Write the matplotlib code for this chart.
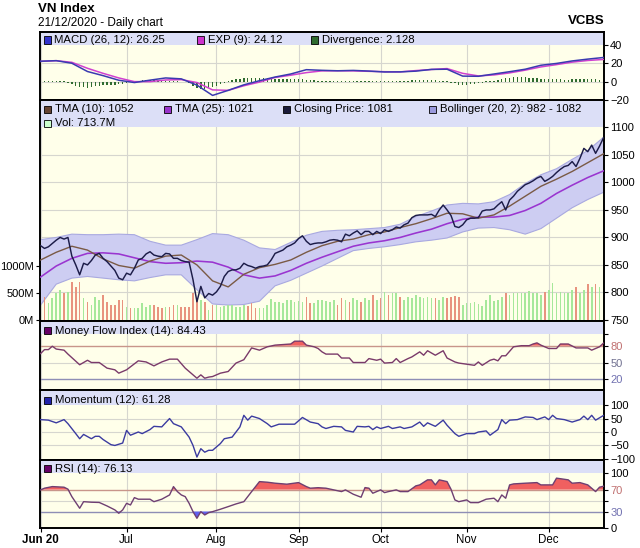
import numpy as np
import pandas as pd
import matplotlib
matplotlib.use("Agg")
import matplotlib.pyplot as plt
from matplotlib.patches import Rectangle
from matplotlib import transforms

plt.rcParams['font.family'] = ['Liberation Sans', 'DejaVu Sans']

# ---------------- data ----------------
days = pd.bdate_range("2020-06-01", "2020-12-21")
days = days[days != pd.Timestamp("2020-09-02")]
month_labels = ["Jun 20", "Jul", "Aug", "Sep", "Oct", "Nov", "Dec"]

close = [885, 880, 883, 889, 895, 900, 897, 900, 866, 850,
         832, 853, 850, 858, 868, 871, 862, 856, 848, 840,
         826, 823, 835, 832, 844, 859, 862, 870, 874, 868,
         866, 865, 871, 870, 862, 862, 858, 856, 855, 823,
         783, 811, 790, 798, 795, 801, 811, 829, 838, 841,
         841, 844, 853, 849, 847, 844, 847, 848, 850, 859,
         871, 874, 877, 883, 886, 890, 898, 903, 893, 887,
         889, 890, 890, 892, 895, 896, 895, 892, 906, 903,
         908, 912, 905, 911, 911, 905, 911, 907, 914, 911,
         914, 919, 917, 923, 926, 936, 940, 941, 941, 941,
         942, 938, 950, 959, 950, 940, 920, 918, 923, 932,
         935, 935, 936, 948, 950, 950, 952, 959, 965, 950,
         968, 975, 984, 990, 996, 999, 1003, 1008, 1011, 1002,
         1006, 1011, 1018, 1024, 1029, 1031, 1038, 1029, 1044, 1062,
         1056, 1068, 1053, 1066, 1081]

volume = [480, 432, 309, 401, 494, 555, 494, 524, 709, 617,
          709, 401, 339, 278, 432, 370, 463, 339, 278, 278,
          370, 370, 247, 216, 216, 216, 308, 247, 278, 278,
          247, 216, 247, 247, 278, 278, 247, 247, 247, 494,
          400, 370, 340, 185, 278, 278, 247, 260, 270, 278,
          247, 247, 278, 259, 308, 216, 216, 216, 278, 382,
          339, 339, 308, 370, 370, 339, 358, 339, 432, 320,
          308, 370, 370, 358, 339, 370, 278, 401, 370, 339,
          401, 370, 339, 401, 380, 463, 370, 401, 512, 463,
          494, 506, 432, 370, 432, 401, 463, 432, 401, 432,
          401, 401, 370, 432, 401, 432, 444, 432, 278, 308,
          321, 339, 296, 259, 370, 463, 358, 370, 432, 506,
          463, 494, 494, 494, 506, 543, 494, 494, 463, 524,
          555, 691, 506, 524, 494, 494, 555, 617, 494, 555,
          666, 617, 666, 617, 714]

smooth_idx = list(range(0, 145, 4))
tma10 = [859, 873, 884, 877, 861, 849, 844, 857, 866, 868, 850, 821, 810, 833, 845,
         851, 859, 873, 885, 893, 897, 905, 910, 918, 925, 934, 944, 943, 935, 941,
         957, 975, 993, 1006, 1020, 1036, 1052]
tma25 = [828, 848, 862, 871, 872, 870, 863, 856, 853, 854, 857, 855, 846, 832, 826,
         830, 840, 853, 864, 874, 884, 890, 894, 900, 908, 915, 925, 933, 937, 937,
         940, 949, 962, 980, 995, 1009, 1021]
boll_up = [896, 900, 906, 905, 905, 906, 905, 893, 886, 886, 896, 907, 905, 895, 881,
           878, 891, 904, 911, 913, 914, 916, 918, 924, 938, 948, 959, 962, 961, 965,
           978, 998, 1014, 1025, 1042, 1058, 1082]
boll_lo = [777, 815, 826, 829, 826, 823, 821, 827, 832, 832, 805, 779, 777, 778, 784,
           812, 822, 835, 848, 862, 876, 880, 883, 887, 892, 895, 899, 910, 917, 918,
           914, 906, 916, 935, 954, 969, 982]

macd = [22.2, 22.8, 20, 11, 6.5, 1.5, -1, 1.6, 4, 3, -3.8, -15, -9.5, -3.5, 1,
        5, 8.3, 13, 12.3, 11.8, 12.2, 11.5, 10.5, 10.6, 11.4, 13.3, 13.5, 6, 5.8, 8.3,
        10.8, 13.5, 17.8, 19.8, 22.5, 24.5, 26.25]
macd_sig = [22, 22.8, 21, 14.5, 9, 4, 0, 0, 1.8, 2.2, -1, -9, -9.5, -4.5, -0.5,
            4.5, 7, 9.8, 11.7, 11.8, 11.7, 11.2, 10.8, 10.6, 12, 13.2, 14.2, 9, 6.2, 7.3,
            9.5, 12.5, 16, 18.5, 21.2, 23, 24.12]
macd_div = ([0.8] * 7
            + [-1, -3, -5, -6, -6, -7, -6, -5, -5, -4, -4, -4, -4, -3, -3]
            + [-1, -0.5, 0.5]
            + [1, 1.5, 2, 2, 2, 1.5, 1.5, 1, 1, 0.5]
            + [0.3, 0, -0.5]
            + [-2, -5, -7, -8, -8, -7, -6]
            + [-5, -3, -1.5]
            + [0.5, 1.5, 2.5, 3, 3.5, 4, 4, 4, 4, 4, 3.5, 3.5, 3, 3, 3, 3, 3, 3, 2.5, 2.5, 2, 2, 1.5, 1]
            + [0.5, 0.5, 0.3, 0.2, 0.2, 0.2, 0.2, 0.2, 0.2, 0.5, 0.5, 0.2, 0.2, 0.5, 0.2, 0.2, 0.2, 0.2, 0.2, 0.2, 0.2, 0.5]
            + [1, 1.5, 1.5, 2, 2, 2, 1.5, 1.5, 1, 1, 0.5]
            + [-1, -2, -3.5, -3.5, -3.5, -3, -2.5, -2, -1]
            + [0.2, 0.5]
            + [1, 2, 3, 3.5, 4, 4.5, 4.5, 4.5, 4.5, 4, 4, 3.5, 3, 3, 3, 2.5, 2.5, 2.5, 2, 2, 2.5, 2.5, 3, 3, 2.5, 2.5, 2.5, 2, 2])

mfi_idx = [0, 1, 2, 3, 4, 6, 7, 10, 12, 13, 15, 17, 19, 20, 22, 25, 27, 29, 31, 33,
           35, 37, 40, 41, 42, 43, 44, 46, 48, 50, 52, 54, 56, 58, 60, 64, 65, 67, 68, 70,
           71, 72, 73, 76, 77, 79, 80, 83, 84, 86, 87, 88, 90, 91, 92, 94, 95, 97, 98, 99,
           101, 103, 104, 106, 107, 109, 111, 112, 113, 115, 116, 117, 118, 119, 121, 123, 125, 126, 127, 128,
           130, 132, 133, 135, 137, 140, 141, 143, 144]
mfi_val = [66, 73, 73, 79, 74, 72, 65, 46, 54, 50, 50, 40, 37, 31, 37, 53, 51, 44, 51, 56,
           56, 40, 22, 28, 22, 24, 25, 31, 34, 49, 55, 76, 72, 78, 81, 83, 88, 88, 81, 78,
           75, 69, 65, 65, 58, 58, 50, 50, 57, 54, 56, 49, 50, 57, 50, 57, 60, 69, 63, 71,
           63, 71, 58, 51, 49, 47, 45, 51, 45, 54, 56, 53, 62, 62, 78, 80, 80, 83, 85, 81,
           75, 75, 83, 83, 76, 76, 72, 78, 84.43]

mom_idx = [0, 2, 4, 6, 7, 9, 10, 11, 13, 14, 15, 16, 18, 19, 21, 22, 23, 25, 26, 28,
           29, 31, 33, 34, 36, 37, 38, 39, 40, 41, 42, 43, 44, 46, 47, 49, 51, 52, 53, 54,
           56, 58, 59, 61, 65, 67, 69, 71, 72, 73, 75, 77, 78, 80, 81, 83, 84, 85, 86, 87,
           89, 90, 92, 93, 95, 97, 98, 99, 101, 103, 104, 106, 107, 109, 111, 112, 114, 115, 117, 118,
           119, 120, 122, 124, 126, 127, 129, 130, 131, 132, 134, 136, 138, 139, 140, 141, 142, 144]
mom_val = [46, 44, 34, 46, 31, -6, -25, -9, -25, -16, -16, -28, -47, -50, -41, 6, -12, 0, -6, 9,
           21, 19, 50, 31, 19, 0, -19, -50, -93, -62, -75, -68, -68, -43, -25, -19, 19, 62, 44, 59,
           50, 31, 19, 29, 29, 54, 37, 31, 19, 13, 21, 19, 6, 0, 21, 19, 21, 9, 19, 13,
           21, 13, 19, 13, 19, 37, 21, 34, 21, 44, 25, -6, -16, -6, -6, 0, 4, -12, 9, 46,
           31, 44, 46, 56, 54, 46, 56, 46, 62, 50, 46, 37, 46, 59, 46, 62, 44, 61.28]

rsi_idx = [0, 1, 3, 6, 7, 8, 10, 11, 13, 15, 17, 19, 20, 21, 22, 23, 24, 25, 28, 29,
           31, 33, 34, 35, 36, 37, 38, 39, 40, 41, 42, 43, 44, 46, 48, 50, 52, 54, 55, 56,
           58, 60, 63, 66, 68, 69, 71, 73, 75, 77, 78, 80, 82, 83, 84, 85, 87, 88, 89, 91,
           92, 94, 96, 97, 99, 100, 101, 102, 104, 105, 106, 107, 109, 110, 112, 114, 116, 117, 118, 119,
           120, 121, 124, 127, 128, 131, 132, 135, 136, 138, 140, 142, 143, 144]
rsi_val = [69.5, 72.6, 75.5, 74.4, 70.8, 57.2, 36, 48, 47, 46.6, 40.2, 33, 26.9, 33, 45, 42, 55.4, 52.5, 52.5, 48,
           52.5, 60.3, 75.5, 66.4, 60.3, 57.2, 45, 29.8, 17.7, 29.8, 23.8, 28, 29.8, 34.2, 39, 43.9, 48, 66.4, 75.5, 84.6,
           83.5, 81.7, 79.9, 82.8, 75.5, 72.6, 73.5, 72.6, 69.5, 66.4, 69.5, 61.6, 56.1, 73.7, 72.6, 63.4, 69.5, 64.5, 66.4, 69.5,
           66.4, 66.4, 76.8, 78.6, 87.8, 87.8, 78.6, 87.8, 84.6, 70.8, 51.2, 48, 51.2, 46.3, 46.3, 52.5, 54.3, 48, 60.3, 54.3,
           78.6, 80.4, 81.7, 82.8, 78.6, 78.6, 90.9, 87.8, 81.7, 82.8, 78.6, 66.4, 74.4, 76.13]

# ---------------- derived positions ----------------
x_days = np.arange(len(days))
month_idx = [0] + [i for i in range(1, len(days)) if days[i].month != days[i - 1].month]
close_arr = np.array(close, dtype=float)
vol_colors = ['#E8937F'] + ['#E8937F' if close_arr[i] < close_arr[i - 1] else '#A6E89A'
                            for i in range(1, len(close_arr))]

# ---------------- figure ----------------
W_PX, H_PX = 640, 548
fig = plt.figure(figsize=(6.4, 5.48), dpi=100)
fig.patch.set_facecolor('white')

BG = '#FFFFEA'
BAND = '#DCDFF7'
GRID = '#D6D6CF'
XL = (-0.15, 144.15)
L_PX, R_PX = 40, 604
TICK_FS = 8


def panel(top, bot):
    ax = fig.add_axes([L_PX / W_PX, 1 - bot / H_PX, (R_PX - L_PX) / W_PX, (bot - top) / H_PX])
    ax.set_facecolor(BG)
    ax.set_xlim(*XL)
    for m in month_idx:
        ax.axvline(m, color=GRID, lw=0.8, zorder=0.5)
    for s in ax.spines.values():
        s.set_color('black')
        s.set_linewidth(1.4)
    ax.yaxis.tick_right()
    ax.tick_params(axis='y', labelsize=TICK_FS, length=3, width=0.8, pad=1.5)
    ax.tick_params(axis='x', bottom=False, labelbottom=False)
    return ax


def legend_item(x, y, color, text):
    fig.add_artist(Rectangle((x / W_PX, 1 - (y + 3.5) / H_PX), 7 / W_PX, 7 / H_PX,
                             transform=fig.transFigure, facecolor=color,
                             edgecolor='black', lw=0.6, zorder=5))
    fig.text((x + 11) / W_PX, 1 - y / H_PX, text, fontsize=8.2, va='center', ha='left', zorder=5)


# ---- MACD ----
ax_c = panel(32, 100)
ax_c.set_ylim(-20, 54)
ax_c.axhspan(40, 54, color=BAND, zorder=0.6, lw=0)
for lv in (20, 0):
    ax_c.axhline(lv, color=GRID, lw=0.8, zorder=0.5)
ax_c.set_yticks([-20, 0, 20, 40])
ax_c.bar(x_days, macd_div, width=0.35, color='#2F6B2F', zorder=2, linewidth=0)
ax_c.plot(smooth_idx, macd_sig, color='#D040D0', lw=1.1, zorder=3)
ax_c.plot(smooth_idx, macd, color='#3A3AB0', lw=1.1, zorder=3)
legend_item(43.5, 40, '#3333CC', 'MACD (26, 12): 26.25')
legend_item(197, 40, '#CC33CC', 'EXP (9): 24.12')
legend_item(311, 40, '#2F6B2F', 'Divergence: 2.128')

# ---- Main price ----
ax_m = panel(100, 321)
ax_m.set_ylim(748, 1150)
ax_m.axhspan(1100, 1150, color=BAND, zorder=0.6, lw=0)
for lv in range(800, 1100, 50):
    ax_m.axhline(lv, color=GRID, lw=0.8, zorder=0.5)
ax_v = ax_m.twinx()
ax_v.set_ylim(-18, 4074)
ax_v.patch.set_visible(False)
for s in ax_v.spines.values():
    s.set_visible(False)
ax_m.yaxis.tick_right()
ax_v.yaxis.tick_left()
ax_m.set_yticks(range(750, 1101, 50))
ax_m.tick_params(axis='y', labelsize=TICK_FS, length=3, width=0.8, pad=1.5)
ax_v.set_yticks([0, 500, 1000])
ax_v.set_yticklabels(['0M', '500M', '1000M'])
ax_v.tick_params(axis='y', labelsize=TICK_FS, length=3, width=0.8, pad=1.5)
ax_v.tick_params(axis='x', bottom=False, labelbottom=False)

ax_m.fill_between(smooth_idx, boll_lo, boll_up, facecolor='#CDCDF2', edgecolor='none', zorder=1)
ax_m.plot(smooth_idx, boll_up, color='#A9A9E0', lw=0.8, zorder=1.1)
ax_m.plot(smooth_idx, boll_lo, color='#A9A9E0', lw=0.8, zorder=1.1)
tr_vol = transforms.blended_transform_factory(ax_m.transData, ax_v.transData)
ax_m.bar(x_days, volume, width=0.42, color=vol_colors, transform=tr_vol, zorder=2, linewidth=0)
ax_m.plot(smooth_idx, tma25, color='#9A35D0', lw=1.15, zorder=3)
ax_m.plot(smooth_idx, tma10, color='#7A5A45', lw=1.0, zorder=3)
ax_m.plot(x_days, close, color='#1C1C48', lw=1.05, zorder=4)
ax_m.set_xlim(*XL)
ax_m.set_ylim(748, 1150)
ax_v.set_ylim(-18, 4074)

legend_item(44, 109, '#664433', 'TMA (10): 1052')
legend_item(164, 109, '#9933CC', 'TMA (25): 1021')
legend_item(282.5, 109, '#1A1A3A', 'Closing Price: 1081')
legend_item(428.5, 109, '#9999DD', 'Bollinger (20, 2): 982 - 1082')
legend_item(44, 123, '#CCFFCC', 'Vol: 713.7M')

# ---- MFI ----
ax_f = panel(321, 390)
ax_f.set_ylim(1, 124)
ax_f.axhspan(100, 124, color=BAND, zorder=0.6, lw=0)
ax_f.axhline(50, color=GRID, lw=0.8, zorder=0.5)
ax_f.axhline(80, color='#C8958A', lw=1.0, zorder=0.7)
ax_f.axhline(20, color='#8E8EB5', lw=1.0, zorder=0.7)
ax_f.set_yticks([20, 50, 80, 100])
ax_f.set_yticklabels(['20', '50', '80', ''])
mfi_arr = np.array(mfi_val)
ax_f.fill_between(mfi_idx, mfi_arr, 80, where=mfi_arr >= 80, interpolate=True,
                  color='#F06060', zorder=1, lw=0)
ax_f.fill_between(mfi_idx, mfi_arr, 20, where=mfi_arr <= 20, interpolate=True,
                  color='#6060F0', zorder=1, lw=0)
ax_f.plot(mfi_idx, mfi_val, color='#7A3A6A', lw=1.0, zorder=3)
for lbl, col in zip(ax_f.get_yticklabels(), ['#7070B0', '#707090', '#C07070', 'black']):
    lbl.set_color(col)
legend_item(44, 330.5, '#660066', 'Money Flow Index (14): 84.43')

# ---- Momentum ----
ax_o = panel(390, 460)
ax_o.set_ylim(-104, 156)
ax_o.axhspan(100, 156, color=BAND, zorder=0.6, lw=0)
for lv in (50, 0, -50):
    ax_o.axhline(lv, color=GRID, lw=0.8, zorder=0.5)
ax_o.set_yticks([-100, -50, 0, 50, 100])
ax_o.plot(mom_idx, mom_val, color='#3B3BA0', lw=1.0, zorder=3)
legend_item(44, 400, '#2222AA', 'Momentum (12): 61.28')

# ---- RSI ----
ax_r = panel(460, 528)
ax_r.set_ylim(0, 124)
ax_r.axhspan(100, 124, color=BAND, zorder=0.6, lw=0)
ax_r.axhline(50, color=GRID, lw=0.8, zorder=0.5)
ax_r.axhline(70, color='#C8958A', lw=1.0, zorder=0.7)
ax_r.axhline(30, color='#8E8EB5', lw=1.0, zorder=0.7)
ax_r.set_yticks([0, 30, 50, 70, 100])
ax_r.set_yticklabels(['0', '30', '', '70', '100'])
rsi_arr = np.array(rsi_val)
ax_r.fill_between(rsi_idx, rsi_arr, 70, where=rsi_arr >= 70, interpolate=True,
                  color='#F06060', zorder=1, lw=0)
ax_r.fill_between(rsi_idx, rsi_arr, 30, where=rsi_arr <= 30, interpolate=True,
                  color='#6060F0', zorder=1, lw=0)
ax_r.plot(rsi_idx, rsi_val, color='#6E3F72', lw=1.0, zorder=3)
for lbl, col in zip(ax_r.get_yticklabels(), ['black', '#7070B0', 'black', '#C07070', 'black']):
    lbl.set_color(col)
ax_r.set_xticks(month_idx)
ax_r.set_xticklabels(month_labels)
ax_r.tick_params(axis='x', bottom=True, labelbottom=True, length=3, width=0.8,
                 labelsize=8.3, pad=1.5)
ax_r.get_xticklabels()[0].set_fontweight('bold')
legend_item(44, 468.5, '#660066', 'RSI (14): 76.13')

# ---- titles ----
fig.text(38 / W_PX, 1 - 8.5 / H_PX, 'VN Index', fontsize=9.5, fontweight='bold', va='center')
fig.text(38 / W_PX, 1 - 23.3 / H_PX, '21/12/2020 - Daily chart', fontsize=8.5, va='center')
fig.text(605 / W_PX, 1 - 21 / H_PX, 'VCBS', fontsize=9.5, fontweight='bold', va='center', ha='right')

fig.savefig('out.png', dpi=100)
